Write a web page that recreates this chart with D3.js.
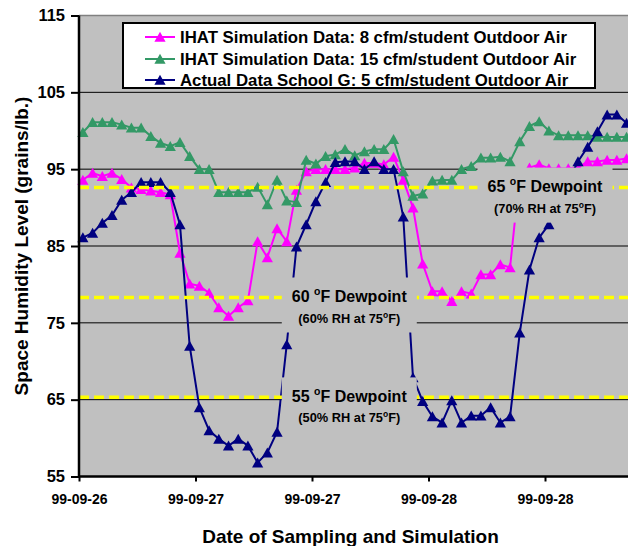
<!DOCTYPE html>
<html><head><meta charset="utf-8">
<script src="https://cdn.jsdelivr.net/npm/d3@7"></script>
<style>
body{margin:0;background:#fff;}
svg{display:block;}
text{font-family:"Liberation Sans",Arial,sans-serif;font-weight:bold;fill:#000;white-space:pre;}
</style>
</head><body>
<svg id="chart" width="628" height="546"></svg>
<script>
// ---------- data ----------
const seriesNames = [
  "IHAT Simulation Data: 8 cfm/student Outdoor Air",
  "IHAT Simulation Data: 15 cfm/student Outdoor Air",
  "Actual Data School G: 5 cfm/student Outdoor Air"
];
const firstSampleHour = 0.4; // hourly samples
const ihat8 = [93.6,94.5,94.1,94.5,93.7,92.6,92.4,92.2,92.0,91.7,84.1,80.1,79.8,78.9,77.0,75.9,77.0,77.9,85.6,83.5,87.3,85.6,92.3,94.7,95.0,95.0,95.0,95.0,95.2,95.8,95.8,95.6,96.6,93.6,90.0,82.7,79.1,79.1,77.8,79.1,78.8,81.3,81.3,82.6,82.2,94.4,95.2,95.6,95.1,95.1,95.1,95.2,96.0,96.0,96.2,96.2,96.4];
const ihat15 = [99.8,101.1,101.1,101.1,100.8,100.4,100.4,99.3,98.4,98.0,98.5,96.7,95.0,95.0,92.0,92.0,92.0,92.0,92.7,90.4,93.6,90.9,90.7,96.2,95.7,96.7,96.9,97.6,96.8,97.3,97.6,97.6,98.9,94.7,91.5,91.8,93.5,93.6,93.6,95.0,95.4,96.5,96.5,96.6,96.0,98.6,100.6,101.2,100.0,99.4,99.4,99.4,99.4,99.2,99.2,99.2,99.2];
const schoolG = [86.1,86.7,88.0,89.0,91.0,92.0,93.3,93.3,93.3,92.0,87.8,72.0,64.0,61.0,59.9,59.0,59.9,59.0,56.8,58.1,60.8,72.2,84.9,87.8,90.8,93.3,95.9,96.0,96.0,95.0,96.0,95.0,95.0,88.8,67.9,64.8,62.8,62.0,64.9,62.0,62.9,62.9,64.0,62.0,62.8,73.7,81.9,86.1,87.8,91.0,93.5,96.0,97.9,99.9,102.1,102.1,101.0];
const xTickDays = [0, 0.5, 1, 1.5, 2];
const xTickLabels = ["99-09-26","99-09-27","99-09-27","99-09-28","99-09-28"];
const yTickValues = [55, 65, 75, 85, 95, 105, 115];
const dewpointHumidity = [92.6, 78.3, 65.3];
const dewpointTemps = ["65", "60", "55"];
const dewpointRH = ["70%", "60%", "50%"];
// label anchor (day, humidity) = centre of each label box
const dewpointLabelDay = [2.0, 1.16, 1.16];
const dewpointLabelTop = [95.2, 80.9, 67.9];

// ---------- layout ----------
const colors = ["#FF00FF", "#339966", "#000080"];
const svg = d3.select("#chart");
const x = d3.scaleLinear().domain([0, 2.5]).range([79, 661.5]);
const y = d3.scaleLinear().domain([55, 115]).range([476.5, 15.5]);
const plotL = x(0), plotR = x(2.5), plotT = y(115), plotB = y(55);

svg.append("rect").attr("width", 628).attr("height", 546).attr("fill", "#fff");
svg.append("rect").attr("x", plotL).attr("y", plotT).attr("width", plotR - plotL).attr("height", plotB - plotT).attr("fill", "#C0C0C0");

// gridlines
svg.append("g").selectAll("line").data(yTickValues.filter(v => v > 55 && v < 115)).join("line")
  .attr("x1", plotL).attr("x2", plotR).attr("y1", d => y(d)).attr("y2", d => y(d))
  .attr("stroke", "#000").attr("stroke-width", 1);
svg.append("line").attr("x1", plotL).attr("x2", plotR).attr("y1", plotT).attr("y2", plotT)
  .attr("stroke", "#808080").attr("stroke-width", 1.5);

// series
const tri = "M0,-5.2L5.6,4.8L-5.6,4.8Z";
const seriesData = [ihat8, ihat15, schoolG];
const line = d3.line().x(d => x(d.t)).y(d => y(d.v));
const gSeries = svg.append("g");
seriesData.forEach((vals, si) => {
  const pts = vals.map((v, i) => ({ t: (firstSampleHour + i) / 24, v }));
  gSeries.append("path").datum(pts).attr("d", line).attr("fill", "none")
    .attr("stroke", colors[si]).attr("stroke-width", 2);
  gSeries.append("g").selectAll("path").data(pts).join("path")
    .attr("d", tri).attr("transform", d => `translate(${x(d.t)},${y(d.v)})`)
    .attr("fill", colors[si]);
});

// dewpoint dashed lines
svg.append("g").selectAll("line").data(dewpointHumidity).join("line")
  .attr("x1", plotL).attr("x2", plotR).attr("y1", d => y(d)).attr("y2", d => y(d))
  .attr("stroke", "#FFFF00").attr("stroke-width", 3.5).attr("stroke-dasharray", "10,5");

// dewpoint label boxes
const boxW = 135, boxH = 55;
dewpointTemps.forEach((tp, i) => {
  const cx = x(dewpointLabelDay[i]);
  const top = y(dewpointLabelTop[i]);
  const g = svg.append("g");
  g.append("rect").attr("x", cx - boxW / 2).attr("y", top).attr("width", boxW).attr("height", boxH).attr("fill", "#C0C0C0");
  const t1 = g.append("text").attr("x", cx).attr("y", top + 24.5).attr("text-anchor", "middle").attr("font-size", 16);
  t1.append("tspan").text(tp + " ");
  t1.append("tspan").attr("font-size", 10.5).attr("dy", -7).text("o");
  t1.append("tspan").attr("dy", 7).text("F Dewpoint");
  const t2 = g.append("text").attr("x", cx).attr("y", top + 45).attr("text-anchor", "middle").attr("font-size", 12.8);
  t2.append("tspan").text("(" + dewpointRH[i] + " RH at 75");
  t2.append("tspan").attr("font-size", 8.5).attr("dy", -5).text("o");
  t2.append("tspan").attr("dy", 5).text("F)");
});

// axes
const yAxis = svg.append("g").attr("transform", `translate(${plotL},0)`)
  .call(d3.axisLeft(y).tickValues(yTickValues).tickSize(8).tickPadding(6).tickFormat(d3.format("d")));
yAxis.select(".domain").attr("stroke", "#000").attr("stroke-width", 2.5).attr("d", `M0,${plotT}V${plotB}`);
yAxis.selectAll(".tick line").attr("stroke", "#000").attr("stroke-width", 2);
yAxis.selectAll(".tick text").attr("font-size", 16.5).style("font-family", '"Liberation Sans",Arial,sans-serif').style("font-weight", "bold").attr("fill", "#000");

const xAxis = svg.append("g").attr("transform", `translate(0,${plotB})`)
  .call(d3.axisBottom(x).tickValues(xTickDays).tickSize(5).tickPadding(13).tickFormat((d, i) => xTickLabels[i]));
xAxis.select(".domain").attr("stroke", "#000").attr("stroke-width", 2.5).attr("d", `M${plotL},0H${plotR}`);
xAxis.selectAll(".tick line").attr("stroke", "#000").attr("stroke-width", 2);
xAxis.selectAll(".tick text").attr("font-size", 14).style("font-family", '"Liberation Sans",Arial,sans-serif').style("font-weight", "bold").attr("fill", "#000");

// axis titles
svg.append("text").attr("x", 350.5).attr("y", 543).attr("text-anchor", "middle").attr("font-size", 19)
  .text("Date of Sampling and Simulation");
svg.append("text").attr("transform", "translate(28,246) rotate(-90)").attr("text-anchor", "middle").attr("font-size", 19)
  .text("Space Humidity Level (grains/lb.)");

// legend
const lg = svg.append("g");
lg.append("rect").attr("x", 123).attr("y", 23).attr("width", 472).attr("height", 65)
  .attr("fill", "#fff").attr("stroke", "#000").attr("stroke-width", 2);
const rowY = [37, 59, 80];
seriesNames.forEach((n, i) => {
  lg.append("line").attr("x1", 145).attr("x2", 175).attr("y1", rowY[i]).attr("y2", rowY[i])
    .attr("stroke", colors[i]).attr("stroke-width", 2);
  lg.append("path").attr("d", tri).attr("transform", `translate(160,${rowY[i]})`).attr("fill", colors[i]);
  lg.append("text").attr("x", 180).attr("y", rowY[i] + 6).attr("font-size", 16.8).text(n);
});
</script>
</body></html>
